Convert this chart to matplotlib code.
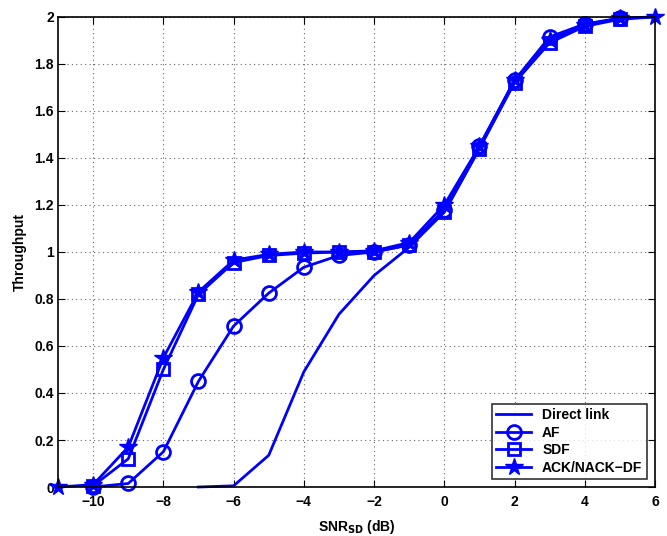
import matplotlib
matplotlib.use('Agg')
import matplotlib.pyplot as plt

plt.rcParams['font.family'] = ['Liberation Sans', 'DejaVu Sans']
plt.rcParams['font.weight'] = 'bold'
plt.rcParams['mathtext.default'] = 'bf'

# 数据
snr_direct = [-7, -6, -5, -4, -3, -2, -1, 0, 1, 2, 3, 4, 5, 6]
direct = [0.0, 0.005, 0.135, 0.49, 0.735, 0.9, 1.02, 1.17, 1.44, 1.73, 1.9, 1.97, 1.99, 2.0]

snr_af = [-10, -9, -8, -7, -6, -5, -4, -3, -2, -1, 0, 1, 2, 3, 4, 5]
af = [0.0, 0.015, 0.15, 0.45, 0.685, 0.825, 0.935, 0.985, 1.0, 1.03, 1.18, 1.45, 1.73, 1.915, 1.97, 1.995]

snr_sdf = [-10, -9, -8, -7, -6, -5, -4, -3, -2, -1, 0, 1, 2, 3, 4, 5]
sdf = [0.005, 0.12, 0.5, 0.82, 0.955, 0.985, 0.995, 1.0, 1.0, 1.03, 1.17, 1.44, 1.72, 1.89, 1.96, 1.99]

snr_ack = [-11, -10, -9, -8, -7, -6, -5, -4, -3, -2, -1, 0, 1, 2, 3, 4, 5, 6]
ack = [0.0, 0.01, 0.17, 0.55, 0.83, 0.965, 0.99, 1.0, 1.0, 1.005, 1.04, 1.2, 1.45, 1.73, 1.9, 1.965, 1.995, 2.0]

fig = plt.figure(figsize=(6.67, 5.36), dpi=100)
ax = fig.add_axes([0.087, 0.0914, 0.895, 0.877])

c = '#0000ff'
ax.plot(snr_direct, direct, '-', color=c, lw=2, label='Direct link', clip_on=False)
ax.plot(snr_af, af, '-o', color=c, lw=2, ms=10, mfc='none', mew=2, label='AF', clip_on=False)
ax.plot(snr_sdf, sdf, '-s', color=c, lw=2, ms=8, mfc='none', mew=2, label='SDF', clip_on=False)
ax.plot(snr_ack, ack, '-*', color=c, lw=2, ms=13, label='ACK/NACK\u2212DF', clip_on=False)

ax.set_xlim(-11, 6)
ax.set_ylim(0, 2)
ax.set_xticks(range(-10, 7, 2))
ax.set_xticklabels(['\u221210', '\u22128', '\u22126', '\u22124', '\u22122', '0', '2', '4', '6'])
ax.set_yticks([0, 0.2, 0.4, 0.6, 0.8, 1, 1.2, 1.4, 1.6, 1.8, 2])
ax.set_yticklabels(['0', '0.2', '0.4', '0.6', '0.8', '1', '1.2', '1.4', '1.6', '1.8', '2'])
ax.tick_params(direction='in', labelsize=10, top=True, right=True, length=5)
ax.tick_params(axis='x', pad=6)
ax.tick_params(axis='y', pad=3)
for lab in ax.get_xticklabels() + ax.get_yticklabels():
    lab.set_fontweight('bold')
ax.grid(True, linestyle=(0, (1, 3)), color='#666666', lw=0.8)
ax.set_axisbelow(True)
for sp in ax.spines.values():
    sp.set_linewidth(1.2)

ax.set_xlabel('SNR$_{SD}$ (dB)', fontsize=10, fontweight='bold', labelpad=6)
ax.set_ylabel('Throughput', fontsize=10, fontweight='bold')
ax.yaxis.set_label_coords(-0.052, 0.5)

leg = ax.legend(loc='lower right', fontsize=10, fancybox=False, edgecolor='black',
                borderaxespad=0.6, handlelength=2.5, labelspacing=0.25, borderpad=0.3)
leg.get_frame().set_linewidth(1.2)
for t in leg.get_texts():
    t.set_fontweight('bold')

fig.savefig('out.png', dpi=100)
